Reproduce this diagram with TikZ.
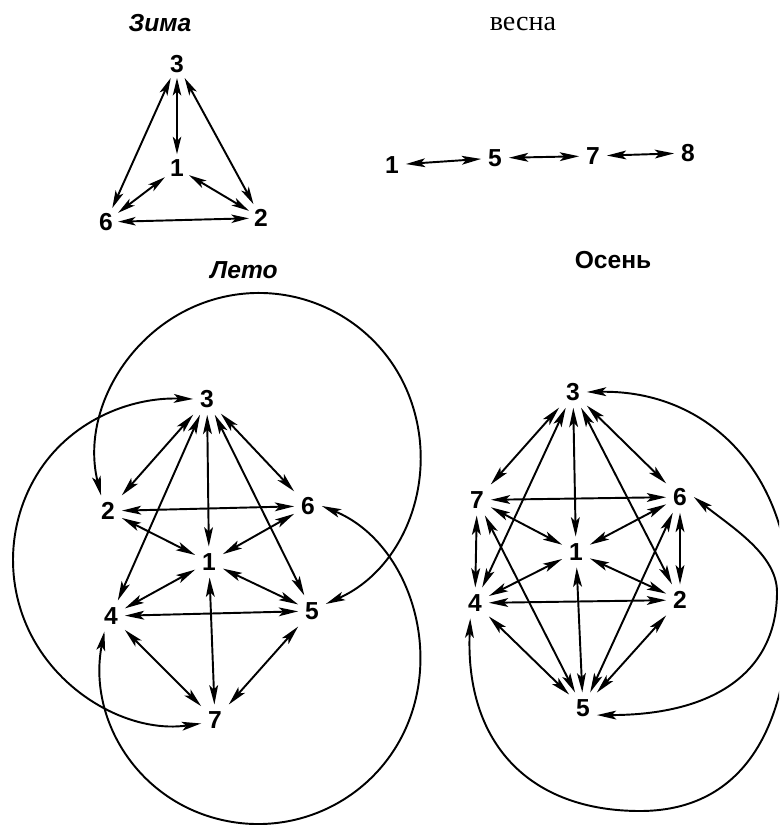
\documentclass[tikz,border=0pt]{standalone}
\usepackage{fontspec}
\setmainfont{Liberation Sans}
\newfontfamily\serifru{Liberation Serif}
\usetikzlibrary{arrows.meta}
\begin{document}
\begin{tikzpicture}[x=0.02cm,y=-0.02cm,
  num/.style={font=\fontsize{14}{14}\selectfont\bfseries, inner sep=4pt, outer sep=0pt},
  snum/.style={font=\fontsize{14}{14}\selectfont\bfseries, inner sep=3pt, outer sep=0pt},
  ttl/.style={font=\fontsize{14}{14}\selectfont\bfseries\itshape, inner sep=0pt},
  ttlup/.style={font=\fontsize{14}{14}\selectfont\bfseries, inner sep=0pt},
  arr/.style={line width=1.1pt, {Stealth[length=11pt,width=5pt,inset=2.5pt]}-{Stealth[length=11pt,width=5pt,inset=2.5pt]}},
  sarr/.style={line width=1.1pt, {Stealth[length=10pt,width=4.8pt,inset=2.5pt]}-{Stealth[length=10pt,width=4.8pt,inset=2.5pt]}}
]
\useasboundingbox (0,0) rectangle (779,825);
\clip (0,0) rectangle (779,825);

% ---------- titles ----------
\node[ttl] (tZ) at (160,23) {Зима};
\node[font=\serifru\fontsize{16}{16}\selectfont, inner sep=0pt] (tV) at (523,24) {весна};
\node[ttl] (tL) at (244,270) {Лето};
\node[ttlup] (tO) at (613,260) {Осень};

% ---------- Зима ----------
\node[snum] (Z3) at (177,64) {3};
\node[snum] (Z1) at (177,168) {1};
\node[snum] (Z6) at (106,222) {6};
\node[snum] (Z2) at (261,218) {2};
\draw[sarr] (Z3) -- (Z1);
\draw[sarr] (Z3) -- (Z6);
\draw[sarr] (Z3) -- (Z2);
\draw[sarr] (Z1) -- (Z6);
\draw[sarr] (Z1) -- (Z2);
\draw[sarr] (Z6) -- (Z2);

% ---------- весна ----------
\node[num] (V1) at (392,165) {1};
\node[num] (V5) at (495,158) {5};
\node[num] (V7) at (593,156) {7};
\node[num] (V8) at (688,153) {8};
\draw[arr] (V1) -- (V5);
\draw[arr] (V5) -- (V7);
\draw[arr] (V7) -- (V8);

% ---------- Лето ----------
\node[num] (L3) at (207,399) {3};
\node[num] (L2) at (108,511) {2};
\node[num] (L6) at (308,506) {6};
\node[num] (L1) at (209,562) {1};
\node[num] (L4) at (111,616) {4};
\node[num] (L5) at (312,611) {5};
\node[num] (L7) at (215,720) {7};
\foreach \a/\b in {L3/L2,L3/L6,L3/L1,L3/L4,L3/L5,L2/L6,L2/L1,L6/L1,L1/L4,L1/L5,L4/L5,L1/L7,L4/L7,L5/L7}
  \draw[arr] (\a) -- (\b);
% big arcs
\draw[arr] (L2.114) .. controls (80.2,411.5) and (130.0,325.0) .. (211.9,300.0)
   .. controls (293.8,275.0) and (381.0,318.5) .. (410.3,398.9)
   .. controls (439.6,479.3) and (404.4,568.8) .. (L5.27);
\draw[arr] (L3.west) .. controls (129.7,397) and (69.0,421.2) .. (36.4,475.5)
   .. controls (3.8,529.8) and (5.4,598.1) .. (40.4,650.8)
   .. controls (75.4,703.5) and (138.0,732.6) .. (L7.194);
\draw[arr] (L6.east) .. controls (401.2,538.5) and (438.7,632.9) .. (411.5,713.7)
   .. controls (384.3,794.5) and (299.4,840.3) .. (216.9,818.7)
   .. controls (134.4,797.1) and (87.9,716.2) .. (L4.247);

% ---------- Осень ----------
\node[num] (O3) at (573,392) {3};
\node[num] (O7) at (477,500) {7};
\node[num] (O6) at (680,497) {6};
\node[num] (O1) at (576,552) {1};
\node[num] (O4) at (475,603) {4};
\node[num] (O2) at (680,600) {2};
\node[num] (O5) at (583,708) {5};
\foreach \a/\b in {O3/O7,O3/O6,O3/O1,O3/O4,O3/O2,O7/O6,O7/O1,O6/O1,O7/O4,O6/O2,O7/O5,O6/O5,O4/O1,O2/O1,O4/O2,O1/O5,O4/O5,O2/O5}
  \draw[arr] (\a) -- (\b);
\draw[arr] (O3.east) .. controls (710,390) and (790,475) .. (790,600)
   .. controls (790,737) and (737,811) .. (640,811)
   .. controls (530,811) and (465,744) .. (O4.253);
\draw[arr] (O6.east) .. controls (733,528) and (777,555) .. (777,592)
   .. controls (777,672) and (714,715) .. (O5.333);
\end{tikzpicture}
\end{document}
